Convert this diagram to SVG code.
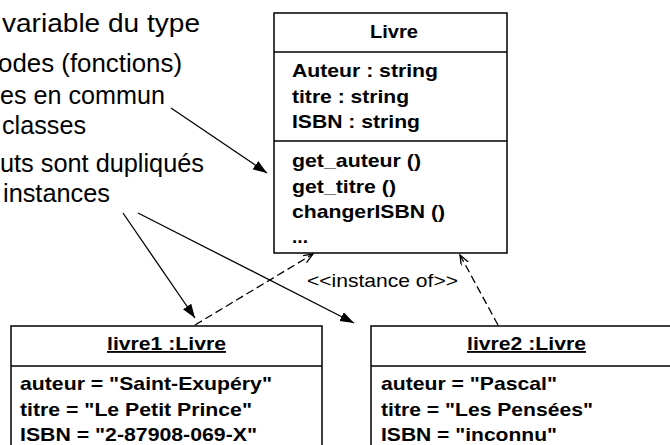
<svg xmlns="http://www.w3.org/2000/svg" width="670" height="445" viewBox="0 0 670 445">
<style>
  text { font-family: "Liberation Sans", Arial, sans-serif; fill: #000; }
  .note { font-size: 25px; }
  .b { font-size: 18.5px; font-weight: bold; }
  .lbl { font-size: 18.5px; }
  .box { fill: #fff; stroke: #000; stroke-width: 1.5; }
  .sep { stroke: #000; stroke-width: 1.5; }
  .conn { fill: none; stroke: #000; stroke-width: 1.3; }
  .dash { stroke-dasharray: 8 4; }
</style>
<defs>
  <marker id="filled" markerUnits="userSpaceOnUse" markerWidth="16" markerHeight="12" refX="14" refY="5" orient="auto">
    <path d="M0,0 L14,5 L0,10 z" fill="#000"/>
  </marker>
  <marker id="open" markerUnits="userSpaceOnUse" markerWidth="12" markerHeight="10" refX="10" refY="4" orient="auto">
    <path d="M0,0 L10,4 L0,8" fill="none" stroke="#000" stroke-width="1.3"/>
  </marker>
</defs>
<rect width="670" height="445" fill="#fff"/>

<g id="notes">
  <text class="note" x="200" y="32" text-anchor="end" textLength="198" lengthAdjust="spacingAndGlyphs">variable du type</text>
  <text class="note" x="182" y="72" text-anchor="end" textLength="184" lengthAdjust="spacingAndGlyphs">odes (fonctions)</text>
  <text class="note" x="165" y="104" text-anchor="end" textLength="165" lengthAdjust="spacingAndGlyphs">es en commun</text>
  <text class="note" x="86" y="134" text-anchor="end" textLength="84" lengthAdjust="spacingAndGlyphs">classes</text>
  <text class="note" x="204" y="172" text-anchor="end" textLength="204" lengthAdjust="spacingAndGlyphs">uts sont dupliqués</text>
  <text class="note" x="110" y="202" text-anchor="end" textLength="107" lengthAdjust="spacingAndGlyphs">instances</text>
</g>

<g id="Livre">
  <rect class="box" x="274" y="13" width="233" height="240"/>
  <line class="sep" x1="274" y1="52" x2="507" y2="52"/>
  <line class="sep" x1="274" y1="141" x2="507" y2="141"/>
  <text class="b" x="370" y="38" textLength="48" lengthAdjust="spacingAndGlyphs">Livre</text>
  <text class="b" x="292" y="77" textLength="146" lengthAdjust="spacingAndGlyphs">Auteur : string</text>
  <text class="b" x="292" y="103" textLength="117" lengthAdjust="spacingAndGlyphs">titre : string</text>
  <text class="b" x="292" y="128" textLength="128" lengthAdjust="spacingAndGlyphs">ISBN : string</text>
  <text class="b" x="292" y="167" textLength="129" lengthAdjust="spacingAndGlyphs">get_auteur ()</text>
  <text class="b" x="292" y="193" textLength="104" lengthAdjust="spacingAndGlyphs">get_titre ()</text>
  <text class="b" x="292" y="218" textLength="153" lengthAdjust="spacingAndGlyphs">changerISBN ()</text>
  <text class="b" x="292" y="243" textLength="16" lengthAdjust="spacingAndGlyphs">...</text>
</g>

<g id="livre1">
  <rect class="box" x="11" y="326" width="311" height="140"/>
  <line class="sep" x1="11" y1="366" x2="322" y2="366"/>
  <text class="b" x="107" y="350" textLength="119" lengthAdjust="spacingAndGlyphs" text-decoration="underline">livre1 :Livre</text>
  <text class="b" x="20" y="390" textLength="252" lengthAdjust="spacingAndGlyphs">auteur = "Saint-Exupéry"</text>
  <text class="b" x="20" y="416" textLength="232" lengthAdjust="spacingAndGlyphs">titre = "Le Petit Prince"</text>
  <text class="b" x="20" y="441" textLength="237" lengthAdjust="spacingAndGlyphs">ISBN = "2-87908-069-X"</text>
</g>

<g id="livre2">
  <rect class="box" x="371" y="326" width="320" height="140"/>
  <line class="sep" x1="371" y1="366" x2="691" y2="366"/>
  <text class="b" x="467" y="350" textLength="119" lengthAdjust="spacingAndGlyphs" text-decoration="underline">livre2 :Livre</text>
  <text class="b" x="381" y="390" textLength="176" lengthAdjust="spacingAndGlyphs">auteur = "Pascal"</text>
  <text class="b" x="381" y="416" textLength="212" lengthAdjust="spacingAndGlyphs">titre = "Les Pensées"</text>
  <text class="b" x="381" y="441" textLength="176" lengthAdjust="spacingAndGlyphs">ISBN = "inconnu"</text>
</g>

<g id="connectors">
  <line class="conn" x1="171" y1="108" x2="267" y2="173" marker-end="url(#filled)"/>
  <line class="conn" x1="123" y1="213" x2="195" y2="318" marker-end="url(#filled)"/>
  <line class="conn" x1="138" y1="213" x2="354" y2="323" marker-end="url(#filled)"/>
  <line class="conn dash" x1="195" y1="325" x2="313" y2="254" marker-end="url(#open)"/>
  <line class="conn dash" x1="498" y1="325" x2="460" y2="255" marker-end="url(#open)"/>
  <text class="lbl" x="307" y="287" textLength="151" lengthAdjust="spacingAndGlyphs">&lt;&lt;instance of&gt;&gt;</text>
</g>
</svg>
